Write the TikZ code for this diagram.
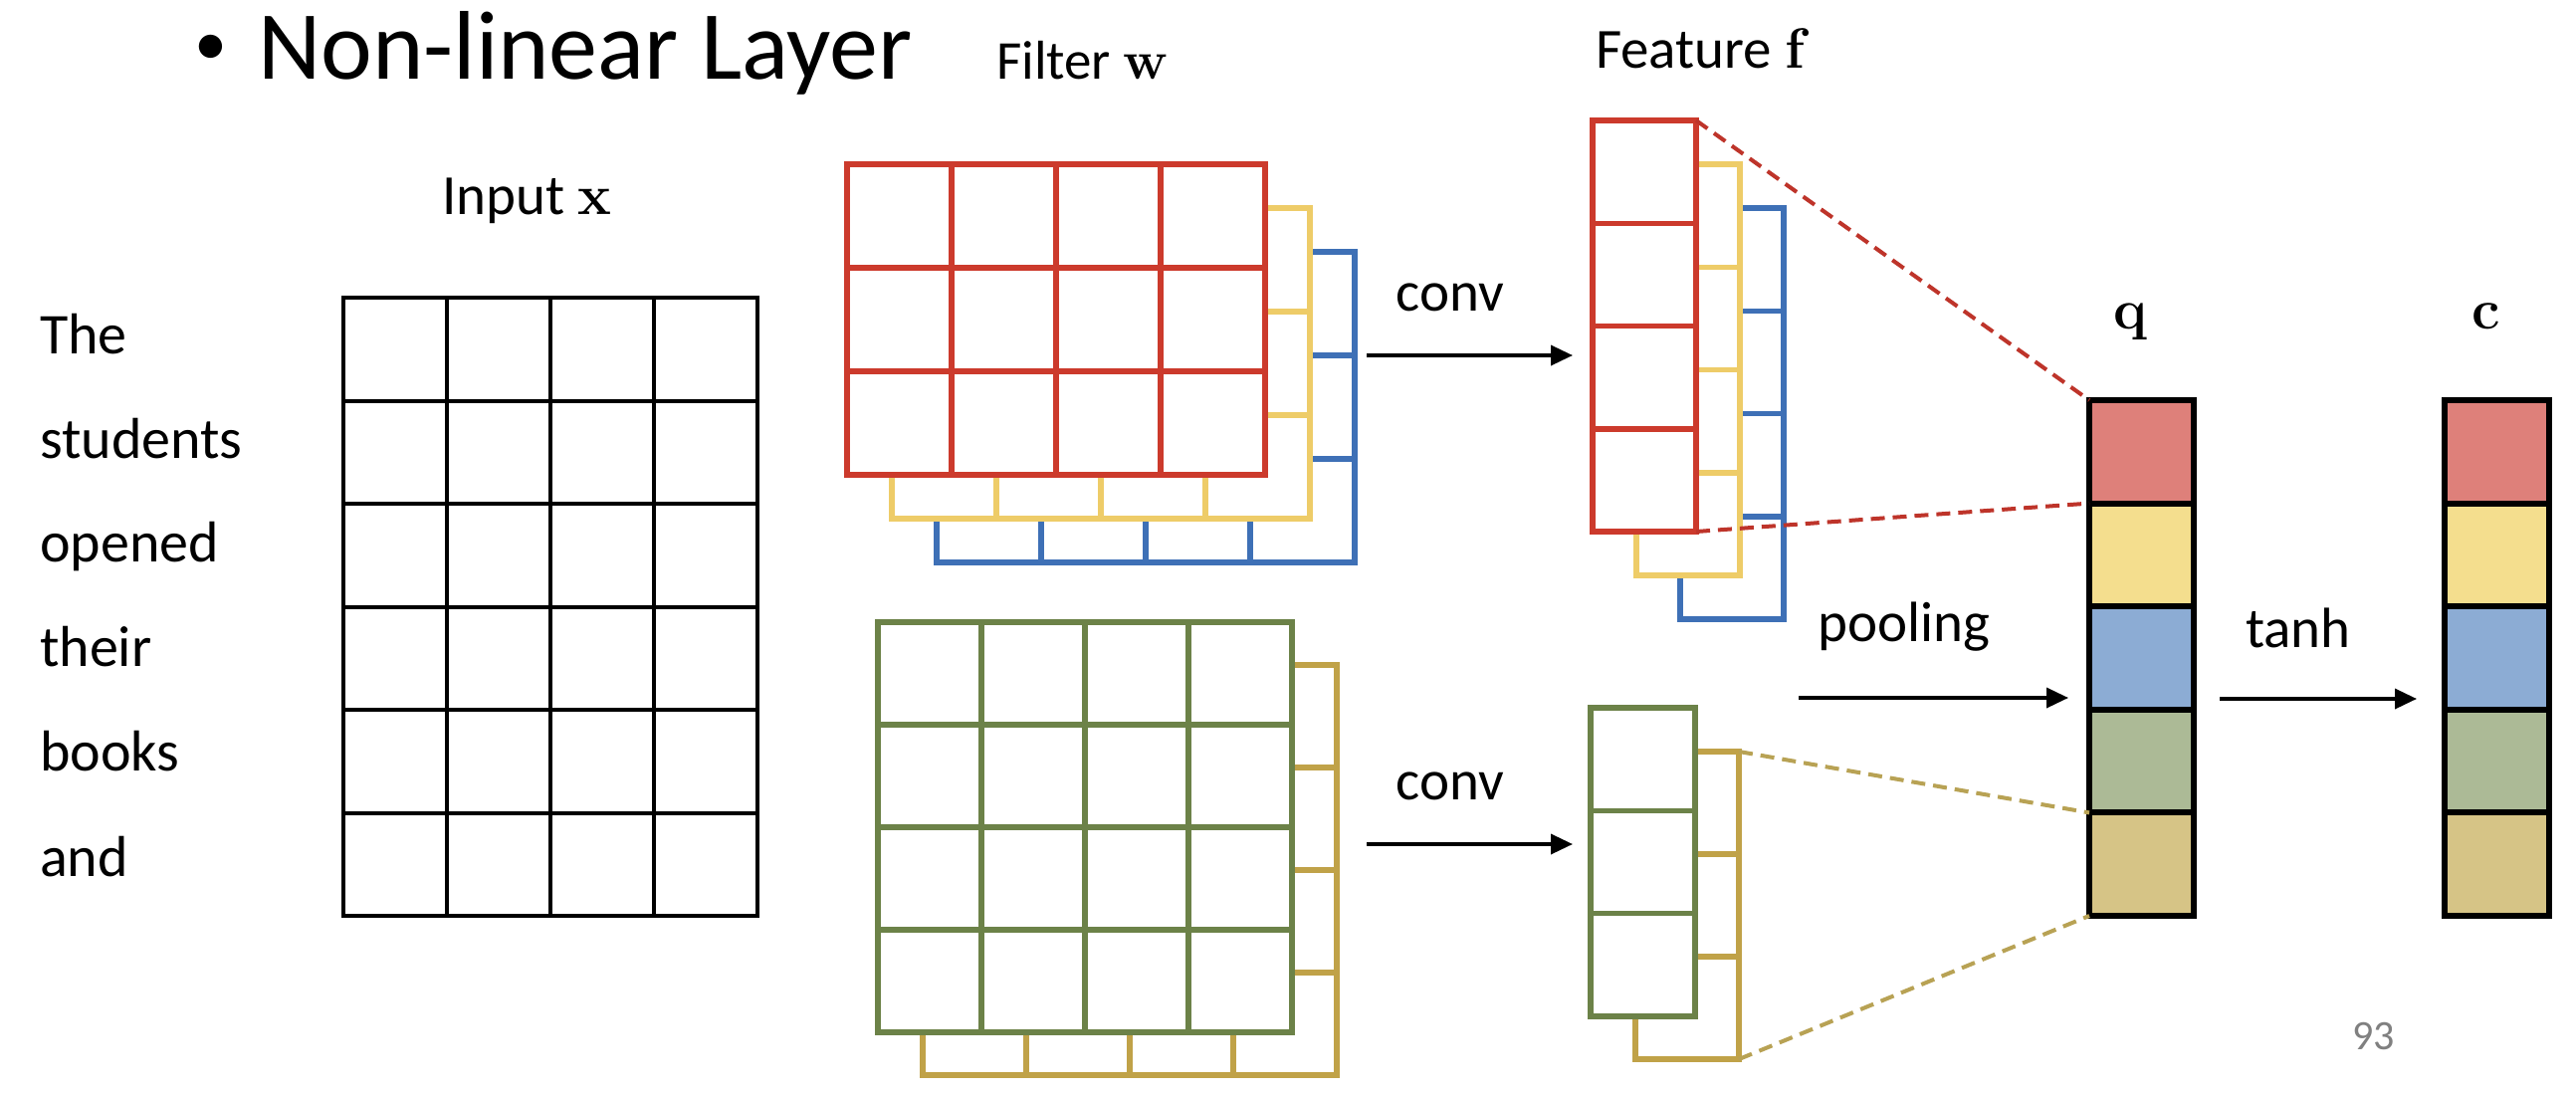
\documentclass[tikz,border=0pt]{standalone}
\usepackage{fontspec}
\newfontfamily\calib{Carlito}
\usetikzlibrary{arrows.meta}
\definecolor{cred}{RGB}{204,58,44}
\definecolor{cyel}{RGB}{238,204,104}
\definecolor{cblu}{RGB}{62,112,182}
\definecolor{cgrn}{RGB}{108,130,72}
\definecolor{cbrn}{RGB}{192,162,72}
\definecolor{fred}{RGB}{222,128,122}
\definecolor{fyel}{RGB}{244,222,142}
\definecolor{fblu}{RGB}{140,172,212}
\definecolor{fgrn}{RGB}{172,186,150}
\definecolor{fbrn}{RGB}{214,196,134}
\definecolor{dred}{RGB}{190,52,42}
\definecolor{dbrn}{RGB}{184,162,84}
\definecolor{pgnum}{RGB}{128,128,128}
\newcommand{\bvec}[1]{{\rmfamily\bfseries #1}}
\newcommand{\gridlayer}[9]{%
  % #1 name, #2 x, #3 y, #4 cols, #5 rows, #6 cell w, #7 cell h, #8 colour, #9 line width
  \node[layerbox, draw=#8, line width=#9, minimum width={#4*#6*1pt}, minimum height={#5*#7*1pt}] (#1) at (#2,#3) {};
  \pgfmathtruncatemacro\gcols{#4-1}%
  \pgfmathtruncatemacro\grows{#5-1}%
  \ifnum\gcols>0 \foreach \i in {1,...,\gcols} {\draw[draw=#8, line width=#9] (#2+\i*#6,#3) -- ++(0,#5*#7);}\fi
  \ifnum\grows>0 \foreach \j in {1,...,\grows} {\draw[draw=#8, line width=#9] (#2,#3+\j*#7) -- ++(#4*#6,0);}\fi
}
\tikzset{
  layerbox/.style={rectangle, fill=white, anchor=north west, inner sep=0pt, outer sep=0pt},
  lbl/.style={font=\calib\fontsize{57}{68}\selectfont, anchor=base west, inner sep=0pt},
  word/.style={font=\calib\fontsize{58}{70}\selectfont, anchor=base west, inner sep=0pt},
  flow/.style={line width=3.5pt, -{Triangle[length=22pt,width=20pt]}},
  cell/.style={rectangle, draw=black, line width=6pt, minimum width=105pt, minimum height=103.6pt, anchor=north west, inner sep=0pt, outer sep=0pt},
  reddash/.style={draw=dred, line width=4pt, dash pattern=on 14pt off 8pt},
  brndash/.style={draw=dbrn, line width=4pt, dash pattern=on 14pt off 8pt},
}
\begin{document}
\begin{tikzpicture}[x=1pt, y=-1pt]
\fill[white] (0,0) rectangle (2588,1100);
\useasboundingbox (0,0) rectangle (2588,1100);

% title
\node[font=\calib\fontsize{66}{80}\selectfont, anchor=base west, inner sep=0pt] (bul) at (195,65) {•};
\node[font=\calib\fontsize{98}{118}\selectfont, anchor=base west, inner sep=0pt] (title) at (259,79) {Non-linear Layer};

% words
\node[word] (w1) at (40,355) {The};
\node[word] (w2) at (40,460) {students};
\node[word] (w3) at (40,564) {opened};
\node[word] (w4) at (40,669) {their};
\node[word] (w5) at (40,774) {books};
\node[word] (w6) at (40,880) {and};

% input grid
\node[lbl] (inlbl) at (444,215) {Input \bvec{x}};
\gridlayer{inp}{345}{299}{4}{6}{104}{103.5}{black}{4pt}

% filters (top)
\node[lbl, font=\calib\fontsize{55}{66}\selectfont] (flbl) at (1001,79) {Filter \bvec{w}};
\gridlayer{fb}{941}{253}{4}{3}{105}{104}{cblu}{5.5pt}
\gridlayer{fy}{896}{209}{4}{3}{105}{104}{cyel}{5.5pt}
\gridlayer{fr}{851}{165}{4}{3}{105}{104}{cred}{5.5pt}

% filters (bottom)
\gridlayer{gb}{927}{668}{4}{4}{104}{103}{cbrn}{5.5pt}
\gridlayer{gg}{882}{625}{4}{4}{104}{103}{cgrn}{5.5pt}

% features (top)
\node[lbl] (ftlbl) at (1603,68) {Feature \bvec{f}};
\gridlayer{ub}{1688}{209}{1}{4}{104}{103.25}{cblu}{5.5pt}
\gridlayer{uy}{1644}{165}{1}{4}{104}{103.25}{cyel}{5.5pt}
\gridlayer{ur}{1600}{121}{1}{4}{104}{103.25}{cred}{5.5pt}

% features (bottom)
\gridlayer{vb}{1643}{755}{1}{3}{104}{103}{cbrn}{5.5pt}
\gridlayer{vg}{1598}{711}{1}{3}{105}{103.3}{cgrn}{5.5pt}

% q and c vectors
\node[lbl, anchor=base, font=\rmfamily\bfseries\fontsize{57}{68}\selectfont] (qlbl) at (2140,330) {q};
\node[lbl, anchor=base, font=\rmfamily\bfseries\fontsize{57}{68}\selectfont] (clbl) at (2498,330) {c};
\foreach \k/\col in {1/fred,2/fyel,3/fblu,4/fgrn,5/fbrn} {
  \node[cell, fill=\col] (q\k) at (2099,{402+(\k-1)*103.6}) {};
  \node[cell, fill=\col] (c\k) at (2456,{402+(\k-1)*103.6}) {};
}

% dashed projections
\draw[reddash] (ur.north east) -- (q1.north west);
\draw[reddash] (ur.south east) -- (q1.south west);
\draw[brndash] (vb.north east) -- (q5.north west);
\draw[brndash] (vb.south east) -- (q5.south west);

% arrows
\coordinate (a1s) at (1373,357);
\coordinate (a1e) at (1580,357);
\coordinate (a2s) at (1373,848);
\coordinate (a2e) at (1580,848);
\coordinate (a3s) at (1807,701);
\coordinate (a3e) at (2078,701);
\coordinate (a4s) at (2230,702);
\coordinate (a4e) at (2428,702);
\draw[flow] (a1s) -- (a1e);
\draw[flow] (a2s) -- (a2e);
\draw[flow] (a3s) -- (a3e);
\draw[flow] (a4s) -- (a4e);
\node[lbl, anchor=base] (conv1) at (1457,312) {conv};
\node[lbl, anchor=base] (conv2) at (1457,803) {conv};
\node[lbl, anchor=base] (pool) at (1913,644) {pooling};
\node[lbl, anchor=base] (tanh) at (2309,650) {tanh};

% page number
\node[anchor=base west, inner sep=0pt, text=pgnum, font=\calib\fontsize{42}{50}\selectfont] (pg) at (2363,1054) {93};
\end{tikzpicture}
\end{document}
